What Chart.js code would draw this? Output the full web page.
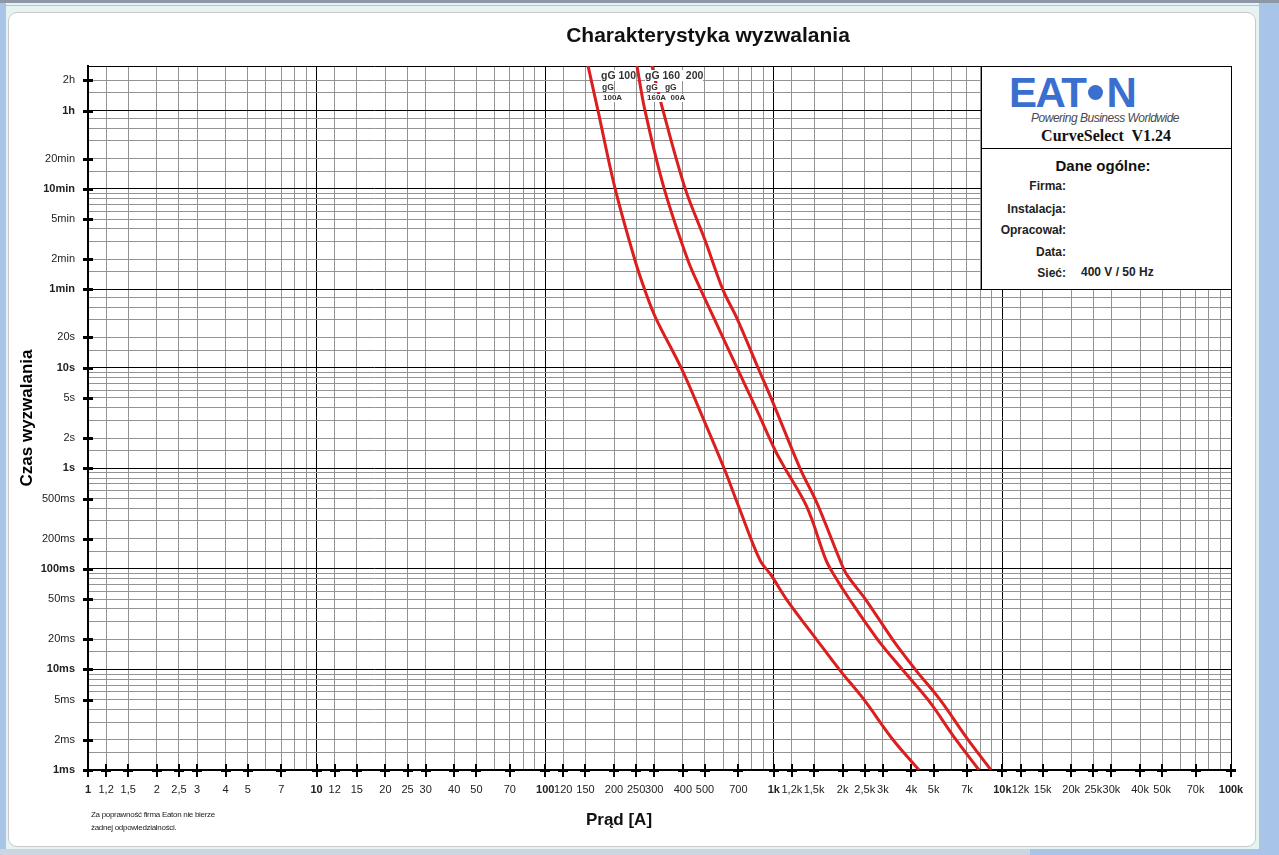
<!DOCTYPE html>
<html><head><meta charset="utf-8">
<script src="https://cdn.jsdelivr.net/npm/chart.js@4.4.1/dist/chart.umd.min.js"></script>
<style>
html,body{margin:0;padding:0;}
body{width:1279px;height:855px;position:relative;overflow:hidden;background:#e6f3f3;font-family:"Liberation Sans",Arial,sans-serif;}
.abs{position:absolute;}
#panel{left:8px;top:12px;width:1248px;height:835px;background:#fff;border:1px solid #c9c9c9;border-radius:9px;box-sizing:border-box;}
#lstrip{left:0;top:0;width:6px;height:855px;background:#a8c4e7;}
#rstrip{left:1259px;top:0;width:20px;height:855px;background:#a8c4e7;}
#topbar{left:0;top:0;width:1279px;height:3px;background:#8e97a6;}
#topbar2{left:0;top:5px;width:1279px;height:1px;background:#b7c2cc;}
#botbar{left:0;top:849px;width:1279px;height:6px;background:#cdd6e0;}
#botbar2{left:1030px;top:849px;width:249px;height:6px;background:#a8c4e7;}
canvas{position:absolute;left:0;top:0;}
#title{left:0;width:1416px;top:23px;text-align:center;font-weight:bold;font-size:21px;color:#111;}
#xtitle{left:0;width:1238px;top:810px;text-align:center;font-weight:bold;font-size:17px;color:#111;}
#disc{left:91px;top:808px;font-size:8px;line-height:13px;color:#222;letter-spacing:-0.3px;}
#info{left:981px;top:66px;width:251px;height:224px;background:#fff;border:1px solid #000;box-sizing:border-box;}
#divider{left:0;top:81px;width:249px;height:1px;background:#000;}
#logo{left:27px;top:5px;font-size:42px;font-weight:bold;color:#3b6fcf;letter-spacing:-1.5px;line-height:42px;white-space:nowrap;}
#logo .dot{display:inline-block;width:15px;height:15px;border-radius:50%;background:#3b6fcf;margin:0 3px 0 3px;vertical-align:middle;position:relative;top:-3px;}
#pbw{left:0;top:44px;width:197px;text-align:right;font-style:italic;font-size:12px;color:#4a4a4a;letter-spacing:-0.5px;}
#cs{left:0;top:60px;width:189px;text-align:right;font-family:"Liberation Serif","Times New Roman",serif;font-weight:bold;font-size:16px;color:#111;}
#dane{left:0;top:90px;width:242px;text-align:center;font-weight:bold;font-size:15px;color:#111;}
.lab{position:absolute;left:0;width:84px;text-align:right;font-weight:bold;font-size:12px;color:#222;}
#siec{left:99px;top:198px;font-weight:bold;font-size:12px;color:#222;}
.cl{position:absolute;background:#fff;color:#333;font-weight:bold;line-height:1;white-space:nowrap;}
</style></head><body>
<div id="lstrip" class="abs"></div>
<div id="rstrip" class="abs"></div>
<div id="topbar" class="abs"></div>
<div id="topbar2" class="abs"></div>
<div id="botbar" class="abs"></div>
<div id="botbar2" class="abs"></div>
<div id="panel" class="abs"></div>
<canvas id="c" width="1279" height="855"></canvas>
<div id="title" class="abs">Charakterystyka wyzwalania</div>
<div id="xtitle" class="abs">Prąd [A]</div>
<div id="disc" class="abs">Za poprawność firma Eaton nie bierze<br>żadnej odpowiedzialności.</div>
<div class="cl" style="left:601px;top:70px;font-size:10.5px;">gG 100</div>
<div class="cl" style="left:602px;top:83px;font-size:8.5px;">gG</div>
<div class="cl" style="left:603px;top:94px;font-size:8px;">100A</div>
<div class="cl" style="left:645px;top:70px;font-size:10.5px;">gG 160&nbsp; 200</div>
<div class="cl" style="left:646px;top:83px;font-size:8.5px;">gG&nbsp;&nbsp; gG</div>
<div class="cl" style="left:647px;top:94px;font-size:8px;">160A&nbsp; 00A</div>
<div id="info" class="abs">
  <div id="logo" class="abs">EAT<span class="dot"></span>N</div>
  <div id="pbw" class="abs">Powering Business Worldwide</div>
  <div id="cs" class="abs">CurveSelect&nbsp; V1.24</div>
  <div id="divider" class="abs"></div>
  <div id="dane" class="abs">Dane ogólne:</div>
  <div class="lab" style="top:112px;">Firma:</div>
  <div class="lab" style="top:135px;">Instalacja:</div>
  <div class="lab" style="top:156px;">Opracował:</div>
  <div class="lab" style="top:178px;">Data:</div>
  <div class="lab" style="top:199px;">Sieć:</div>
  <div id="siec" class="abs">400 V / 50 Hz</div>
</div>
<script>
// ---- data (current in A, trip time in s) ----
const current100 = [154, 170, 202, 247, 273, 305, 393, 495, 606, 704, 870, 972, 1142, 1545, 1948, 2481, 3322, 4318];
const time100    = [10000, 3640, 610, 117, 59, 31, 10, 3.0, 1.0, 0.41, 0.122, 0.087, 0.049, 0.0196, 0.0098, 0.005, 0.002, 0.001];
const current160 = [252, 273, 331, 421, 480, 548, 690, 842, 1012, 1119, 1397, 1692, 1834, 2154, 2857, 3675, 4726, 6266, 7898];
const time160    = [10000, 3640, 610, 117, 59, 31, 10, 3.8, 1.52, 1.0, 0.41, 0.122, 0.087, 0.049, 0.0196, 0.0098, 0.005, 0.002, 0.001];
const current200 = [293, 323, 409, 500, 600, 690, 853, 1002, 1302, 1545, 1948, 2090, 2532, 3322, 4188, 5334, 7071, 8913];
const time200    = [10000, 4080, 610, 186, 59, 31, 10, 4.25, 1.0, 0.45, 0.122, 0.087, 0.049, 0.0196, 0.0098, 0.005, 0.002, 0.001];
const seriesNames = ['gG 100A', 'gG 160A', 'gG 200A'];

// ---- axis ticks ----
const xGridValues = [];
[1,10,100,1000,10000].forEach(d => [1,1.2,1.5,2,2.5,3,4,5,6,7,8,9].forEach(m => xGridValues.push(+(m*d).toPrecision(3))));
xGridValues.push(100000);
const xLabelValues = [1,1.2,1.5,2,2.5,3,4,5,7,10,12,15,20,25,30,40,50,70,100,120,150,200,250,300,400,500,700,1000,1200,1500,2000,2500,3000,4000,5000,7000,10000,12000,15000,20000,25000,30000,40000,50000,70000,100000];
const xLabelTexts  = ['1','1,2','1,5','2','2,5','3','4','5','7','10','12','15','20','25','30','40','50','70','100','120','150','200','250','300','400','500','700','1k','1,2k','1,5k','2k','2,5k','3k','4k','5k','7k','10k','12k','15k','20k','25k','30k','40k','50k','70k','100k'];
const xBoldValues = [1,10,100,1000,10000,100000];

const yGridValues = [];
[0.001,0.01,0.1,1].forEach(d => [1,1.5,2,3,4,5,6,7,8,9].forEach(m => yGridValues.push(+(m*d).toPrecision(3))));
yGridValues.push(10,15,20,30,40,50,60,90,120,180,240,300,360,420,480,540,600,900,1200,1800,2400,3000,3600,5400,7200,10000);
const yLabelValues = [0.001,0.002,0.005,0.01,0.02,0.05,0.1,0.2,0.5,1,2,5,10,20,60,120,300,600,1200,3600,7200];
const yLabelTexts  = ['1ms','2ms','5ms','10ms','20ms','50ms','100ms','200ms','500ms','1s','2s','5s','10s','20s','1min','2min','5min','10min','20min','1h','2h'];
const yBoldValues = [0.001,0.01,0.1,1,10,60,600,3600,10000];

const xLab = new Map(xLabelValues.map((v,i)=>[v,xLabelTexts[i]]));
const yLab = new Map(yLabelValues.map((v,i)=>[v,yLabelTexts[i]]));
const xBold = new Set(xBoldValues), yBold = new Set(yBoldValues);
const FAM = '"Liberation Sans", Arial, sans-serif';

const tickMarks = {
  id: 'tickMarks',
  afterDraw(chart) {
    const ctx = chart.ctx, xs = chart.scales.x, ys = chart.scales.y, a = chart.chartArea;
    ctx.save();
    ctx.fillStyle = '#000';
    yLabelValues.forEach(v => { const y = Math.round(ys.getPixelForValue(v)); ctx.fillRect(a.left - 5, y - 1, 10, 3); });
    xLabelValues.forEach(v => { const x = Math.round(xs.getPixelForValue(v)); ctx.fillRect(x - 1, a.bottom - 6, 2, 13); ctx.fillRect(x - 5, a.bottom - 1, 10, 3); });
    ctx.restore();
  }
};

const currents = [current100, current160, current200];
const times = [time100, time160, time200];

new Chart(document.getElementById('c'), {
  type: 'line',
  data: {
    datasets: seriesNames.map((n, k) => ({
      label: n,
      data: currents[k].map((c, i) => ({ x: c, y: times[k][i] })),
      borderColor: '#dc1e1e',
      borderWidth: 3,
      pointRadius: 0,
      fill: false,
      tension: 0.35
    }))
  },
  options: {
    responsive: false,
    animation: false,
    devicePixelRatio: 1,
    layout: { padding: { left: 17, top: 66, right: 48, bottom: 0 } },
    plugins: { legend: { display: false }, tooltip: { enabled: false }, title: { display: false } },
    scales: {
      x: {
        type: 'logarithmic', min: 1, max: 100000,
        afterBuildTicks: s => { s.ticks = xGridValues.map(v => ({ value: v })); },
        afterFit: s => { s.height = 85; },
        grid: {
          drawTicks: false,
          color: c => (c.tick && xBold.has(c.tick.value)) ? '#000' : '#939393',
          lineWidth: 1
        },
        border: { display: true, color: '#000', width: 2 },
        ticks: {
          autoSkip: false, maxRotation: 0, minRotation: 0, padding: 13, color: '#222',
          callback: v => xLab.has(v) ? xLab.get(v) : '',
          font: c => ({ family: FAM, size: 11, weight: (c.tick && xBold.has(c.tick.value)) ? 'bold' : 'normal' })
        }
      },
      y: {
        type: 'logarithmic', min: 0.001, max: 10000,
        afterBuildTicks: s => { s.ticks = yGridValues.map(v => ({ value: v })); },
        afterFit: s => { s.width = 71; },
        grid: {
          drawTicks: false,
          color: c => (c.tick && yBold.has(c.tick.value)) ? '#000' : '#939393',
          lineWidth: 1
        },
        border: { display: true, color: '#000', width: 2 },
        title: { display: true, text: 'Czas wyzwalania', color: '#000', padding: 0, font: { family: FAM, size: 17, weight: 'bold' } },
        ticks: {
          autoSkip: false, padding: 13, color: '#222',
          callback: v => yLab.has(v) ? yLab.get(v) : '',
          font: c => ({ family: FAM, size: 11, weight: (c.tick && yBold.has(c.tick.value)) ? 'bold' : 'normal' })
        }
      }
    }
  },
  plugins: [tickMarks]
});
</script>
</body></html>
